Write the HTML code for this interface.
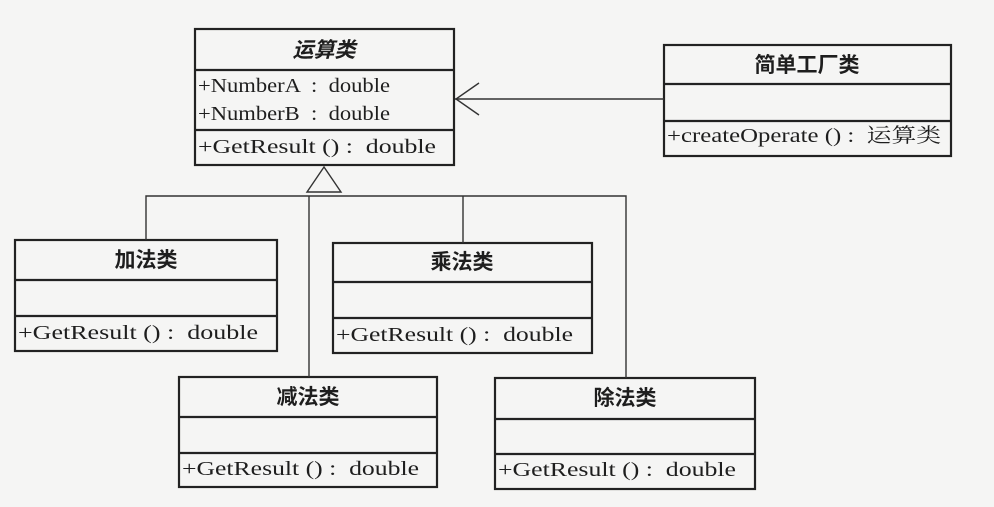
<!DOCTYPE html>
<html><head><meta charset="utf-8"><style>
html,body{margin:0;padding:0;background:#f5f5f4;}
svg{display:block;}
text{font-family:"Liberation Serif","Noto Serif CJK SC",serif;fill:#1e1e1e;font-size:20px;white-space:pre;}
.h{font-family:"Liberation Sans","Noto Sans CJK SC",sans-serif;font-weight:bold;font-size:21px;}
</style></head><body>
<svg width="994" height="507" viewBox="0 0 994 507" xmlns="http://www.w3.org/2000/svg" xml:space="preserve">
<rect width="994" height="507" fill="#f5f5f4"/>
<g fill="none" stroke="#222" stroke-width="2.2">
<rect x="195" y="29" width="259" height="136"/>
<line x1="195" y1="70" x2="454" y2="70"/><line x1="195" y1="130" x2="454" y2="130"/>
<rect x="664" y="45" width="287" height="111"/>
<line x1="664" y1="84" x2="951" y2="84"/><line x1="664" y1="121" x2="951" y2="121"/>
<rect x="15" y="240" width="262" height="111"/>
<line x1="15" y1="280" x2="277" y2="280"/><line x1="15" y1="316" x2="277" y2="316"/>
<rect x="333" y="243" width="259" height="110"/>
<line x1="333" y1="282" x2="592" y2="282"/><line x1="333" y1="318" x2="592" y2="318"/>
<rect x="179" y="377" width="258" height="110"/>
<line x1="179" y1="417" x2="437" y2="417"/><line x1="179" y1="453" x2="437" y2="453"/>
<rect x="495" y="378" width="260" height="111"/>
<line x1="495" y1="419" x2="755" y2="419"/><line x1="495" y1="454" x2="755" y2="454"/>
</g>
<g fill="none" stroke="#333" stroke-width="1.4">
<line x1="455" y1="99" x2="664" y2="99"/>
<polyline points="479,83 456,99 479,115"/>
<polygon points="324,167 307,192 341,192" fill="#f5f5f4"/>
<polyline points="146,240 146,196 626,196 626,378"/>
<line x1="309" y1="196" x2="309" y2="377"/>
<line x1="463" y1="196" x2="463" y2="243"/>
</g>
<text class="h" x="324" y="57" text-anchor="middle" font-style="italic">运算类</text>
<text x="198" y="92" textLength="192" lengthAdjust="spacingAndGlyphs">+NumberA  :  double</text>
<text x="198" y="120" textLength="192" lengthAdjust="spacingAndGlyphs">+NumberB  :  double</text>
<text x="198" y="153" textLength="238" lengthAdjust="spacingAndGlyphs">+GetResult () :  double</text>
<text class="h" x="807" y="72" text-anchor="middle">简单工厂类</text>
<text x="667" y="142" textLength="274" lengthAdjust="spacingAndGlyphs">+createOperate () :  运算类</text>
<text class="h" x="146" y="267" text-anchor="middle">加法类</text>
<text x="18" y="339" textLength="240" lengthAdjust="spacingAndGlyphs">+GetResult () :  double</text>
<text class="h" x="462" y="269" text-anchor="middle">乘法类</text>
<text x="336" y="341" textLength="237" lengthAdjust="spacingAndGlyphs">+GetResult () :  double</text>
<text class="h" x="308" y="404" text-anchor="middle">减法类</text>
<text x="182" y="475" textLength="237" lengthAdjust="spacingAndGlyphs">+GetResult () :  double</text>
<text class="h" x="625" y="405" text-anchor="middle">除法类</text>
<text x="498" y="476" textLength="238" lengthAdjust="spacingAndGlyphs">+GetResult () :  double</text>
</svg>
</body></html>
